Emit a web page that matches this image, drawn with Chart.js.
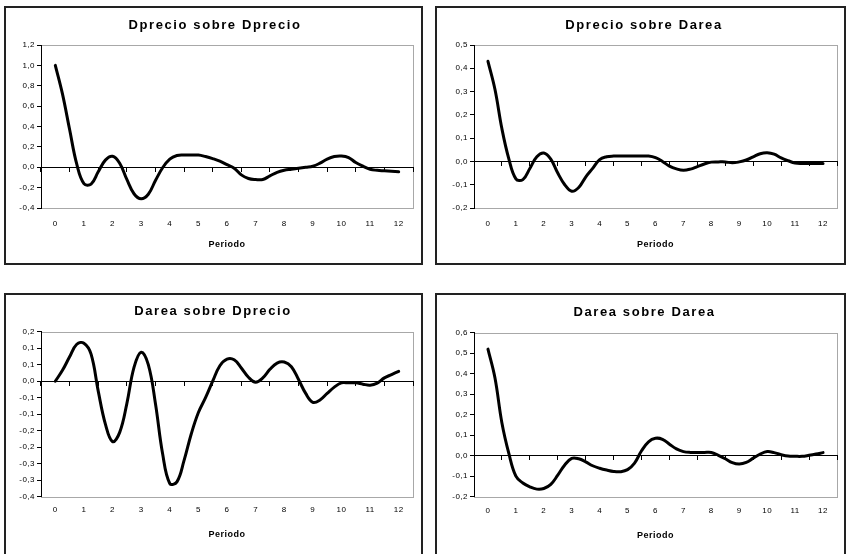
<!DOCTYPE html>
<html>
<head>
<meta charset="utf-8">
<script src="https://cdn.jsdelivr.net/npm/chart.js@4"></script>
<style>
  html, body { margin: 0; padding: 0; background: #fff; overflow: hidden; }
  .panel { position: absolute; border: 2px solid #222; background: #fff; }
  .panel canvas { display: block; }
</style>
</head>
<body>
<div class="panel" style="left:4px;top:6px;width:415px;height:255px"><canvas id="c1" width="415" height="255"></canvas></div>
<div class="panel" style="left:435px;top:6px;width:407px;height:255px"><canvas id="c2" width="407" height="255"></canvas></div>
<div class="panel" style="left:4px;top:293px;width:415px;height:264px"><canvas id="c3" width="415" height="264"></canvas></div>
<div class="panel" style="left:435px;top:293px;width:407px;height:264px"><canvas id="c4" width="407" height="264"></canvas></div>
<script>
const FONT = "'Liberation Sans', Arial, sans-serif";

// periods (x) and the labelled ticks on the x axis
const periods = [0, 0.25, 0.5, 0.75, 1, 1.25, 1.5, 1.75, 2, 2.25, 2.5, 2.75, 3, 3.25, 3.5, 3.75,
  4, 4.25, 4.5, 4.75, 5, 5.25, 5.5, 5.75, 6, 6.25, 6.5, 6.75, 7, 7.25, 7.5, 7.75,
  8, 8.25, 8.5, 8.75, 9, 9.25, 9.5, 9.75, 10, 10.25, 10.5, 10.75, 11, 11.25, 11.5, 11.75, 12];
const xTickValues = [0, 1, 2, 3, 4, 5, 6, 7, 8, 9, 10, 11, 12];
const xLabels = ['0', '1', '2', '3', '4', '5', '6', '7', '8', '9', '10', '11', '12'];

// responses
const dprecioDprecio = [1.0, 0.72, 0.37, 0.03, -0.16, -0.165, -0.045, 0.07, 0.108, 0.04, -0.12, -0.26,
  -0.31, -0.265, -0.13, -0.005, 0.08, 0.115, 0.12, 0.12, 0.12, 0.105, 0.085, 0.06,
  0.025, -0.01, -0.075, -0.11, -0.12, -0.12, -0.085, -0.05, -0.03, -0.02, -0.01, 0.0,
  0.01, 0.04, 0.08, 0.105, 0.11, 0.095, 0.046, 0.01, -0.02, -0.03, -0.035, -0.04, -0.045];
const dprecioDarea = [0.43, 0.31, 0.14, 0.01, -0.075, -0.078, -0.03, 0.02, 0.036, 0.01, -0.05, -0.10,
  -0.128, -0.112, -0.067, -0.03, 0.008, 0.02, 0.023, 0.023, 0.023, 0.023, 0.023, 0.023,
  0.016, 0.0, -0.02, -0.032, -0.038, -0.033, -0.022, -0.011, -0.003, -0.002, -0.002, -0.006,
  -0.002, 0.006, 0.02, 0.033, 0.037, 0.031, 0.015, 0.003, -0.007, -0.009, -0.009, -0.009, -0.009];
const dareaDprecio = [0, 0.033, 0.074, 0.112, 0.115, 0.082, -0.03, -0.13, -0.183, -0.155, -0.068, 0.042,
  0.088, 0.05, -0.068, -0.22, -0.31, -0.305, -0.24, -0.16, -0.095, -0.05, 0.0, 0.047,
  0.067, 0.065, 0.04, 0.012, -0.003, 0.01, 0.036, 0.055, 0.058, 0.044, 0.005, -0.037,
  -0.064, -0.057, -0.037, -0.018, -0.005, -0.005, -0.005, -0.009, -0.012, -0.006, 0.01, 0.02, 0.03];
const dareaDarea = [0.52, 0.38, 0.16, 0.01, -0.10, -0.133, -0.152, -0.163, -0.16, -0.14, -0.095, -0.045,
  -0.013, -0.015, -0.03, -0.049, -0.061, -0.07, -0.077, -0.078, -0.068, -0.036, 0.024, 0.068,
  0.085, 0.08, 0.056, 0.033, 0.02, 0.016, 0.016, 0.016, 0.016, 0.002, -0.015, -0.034,
  -0.041, -0.033, -0.012, 0.008, 0.02, 0.015, 0.005, -0.002, -0.003, -0.003, 0.002, 0.008, 0.015];

// y ticks and their printed labels
const yTicks1 = [-0.4, -0.2, 0, 0.2, 0.4, 0.6, 0.8, 1.0, 1.2];
const yLabels1 = ['-0,4', '-0,2', '0,0', '0,2', '0,4', '0,6', '0,8', '1,0', '1,2'];
const yTicks2 = [-0.2, -0.1, 0, 0.1, 0.2, 0.3, 0.4, 0.5];
const yLabels2 = ['-0,2', '-0,1', '0,0', '0,1', '0,2', '0,3', '0,4', '0,5'];
const yTicks3 = [-0.35, -0.3, -0.25, -0.2, -0.15, -0.1, -0.05, 0, 0.05, 0.1, 0.15];
const yLabels3 = ['-0,4', '-0,3', '-0,3', '-0,2', '-0,2', '-0,1', '-0,1', '0,0', '0,1', '0,1', '0,2'];
const yTicks4 = [-0.2, -0.1, 0, 0.1, 0.2, 0.3, 0.4, 0.5, 0.6];
const yLabels4 = ['-0,2', '-0,1', '0,0', '0,1', '0,2', '0,3', '0,4', '0,5', '0,6'];

// grey frame round the plot area, and the wide letter spacing of the original
const plotFrame = {
  id: 'plotFrame',
  beforeDraw(chart) {
    const {ctx, chartArea: a} = chart;
    ctx.save();
    ctx.strokeStyle = '#a8a8a8';
    ctx.lineWidth = 1;
    ctx.strokeRect(Math.round(a.left) + 0.5, Math.round(a.top) + 0.5,
      Math.round(a.right - a.left), Math.round(a.bottom - a.top));
    ctx.restore();
    ctx.letterSpacing = '1.6px';
  },
  afterDatasetsDraw(chart) { chart.ctx.letterSpacing = '0.5px'; },
  afterDraw(chart) { chart.ctx.letterSpacing = '0px'; }
};

function makeChart(id, titleText, values, yTicks, yLabels, lay) {
  const ctx = document.getElementById(id).getContext('2d');
  return new Chart(ctx, {
    type: 'line',
    data: {
      datasets: [{
        data: periods.map((p, i) => ({x: p, y: values[i]})),
        xAxisID: 'x',
        yAxisID: 'y',
        borderColor: '#000',
        borderWidth: 3,
        tension: 0.4,
        pointRadius: 0,
        fill: false,
        borderCapStyle: 'round',
        borderJoinStyle: 'round'
      }]
    },
    options: {
      responsive: false,
      animation: false,
      devicePixelRatio: 1,
      layout: { padding: { left: lay.padLeft, right: lay.padRight, top: 0, bottom: 0 } },
      plugins: {
        legend: { display: false },
        tooltip: { enabled: false },
        title: {
          display: true,
          text: titleText,
          color: '#000',
          font: { family: FONT, size: 13, weight: 'bold' },
          padding: { top: lay.titleTop, bottom: lay.titleBottom }
        }
      },
      scales: {
        x: {
          type: 'linear', min: -0.5, max: 12.5,
          afterBuildTicks: s => { s.ticks = xTickValues.map(v => ({value: v})); },
          afterFit: s => { s.height = lay.xHeight; },
          grid: { display: false, drawTicks: false, z: 1 },
          border: { display: false },
          ticks: {
            autoSkip: false, maxRotation: 0, padding: lay.xLabelPad, color: '#000', z: 1,
            font: { family: FONT, size: 8 },
            callback: (v, i) => xLabels[i]
          },
          title: {
            display: true, text: 'Periodo', color: '#000',
            font: { family: FONT, size: 9, weight: 'bold' },
            padding: { top: 0, bottom: lay.xTitlePad }
          }
        },
        x2: {
          type: 'linear', min: -0.5, max: 12.5,
          position: { y: 0 },
          afterBuildTicks: s => { s.ticks = xTickValues.map(v => ({value: v})); },
          ticks: { display: false },
          grid: { drawOnChartArea: false, drawTicks: true, tickLength: 4, color: '#000', offset: true, z: 1 },
          border: { color: '#000', width: 1, z: 1 }
        },
        y: {
          type: 'linear', min: yTicks[0], max: yTicks[yTicks.length - 1],
          afterBuildTicks: s => { s.ticks = yTicks.map(v => ({value: v})); },
          afterFit: s => { s.width = lay.yWidth; },
          grid: { drawOnChartArea: false, drawTicks: true, tickLength: 4, color: '#000', z: 1 },
          border: { color: '#000', width: 1, z: 1 },
          ticks: {
            padding: 2, color: '#000', z: 1,
            font: { family: FONT, size: 8 },
            callback: (v, i) => yLabels[i]
          }
        }
      }
    },
    plugins: [plotFrame]
  });
}

makeChart('c1', 'Dprecio sobre Dprecio', dprecioDprecio, yTicks1, yLabels1,
  { padLeft: 11, yWidth: 24, padRight: 8, titleTop: 9.2, titleBottom: 12.2, xHeight: 55, xLabelPad: 11.2, xTitlePad: 12.6 });
makeChart('c2', 'Dprecio sobre Darea', dprecioDarea, yTicks2, yLabels2,
  { padLeft: 14, yWidth: 23, padRight: 7, titleTop: 9.2, titleBottom: 12.2, xHeight: 55, xLabelPad: 11.2, xTitlePad: 12.6 });
makeChart('c3', 'Darea sobre Dprecio', dareaDprecio, yTicks3, yLabels3,
  { padLeft: 7, yWidth: 28, padRight: 8, titleTop: 8.9, titleBottom: 12.2, xHeight: 62.3, xLabelPad: 8.5, xTitlePad: 18.6 });
makeChart('c4', 'Darea sobre Darea', dareaDarea, yTicks4, yLabels4,
  { padLeft: 15, yWidth: 22, padRight: 7, titleTop: 9.9, titleBottom: 12.2, xHeight: 62.3, xLabelPad: 9.2, xTitlePad: 17.6 });
</script>
</body>
</html>
